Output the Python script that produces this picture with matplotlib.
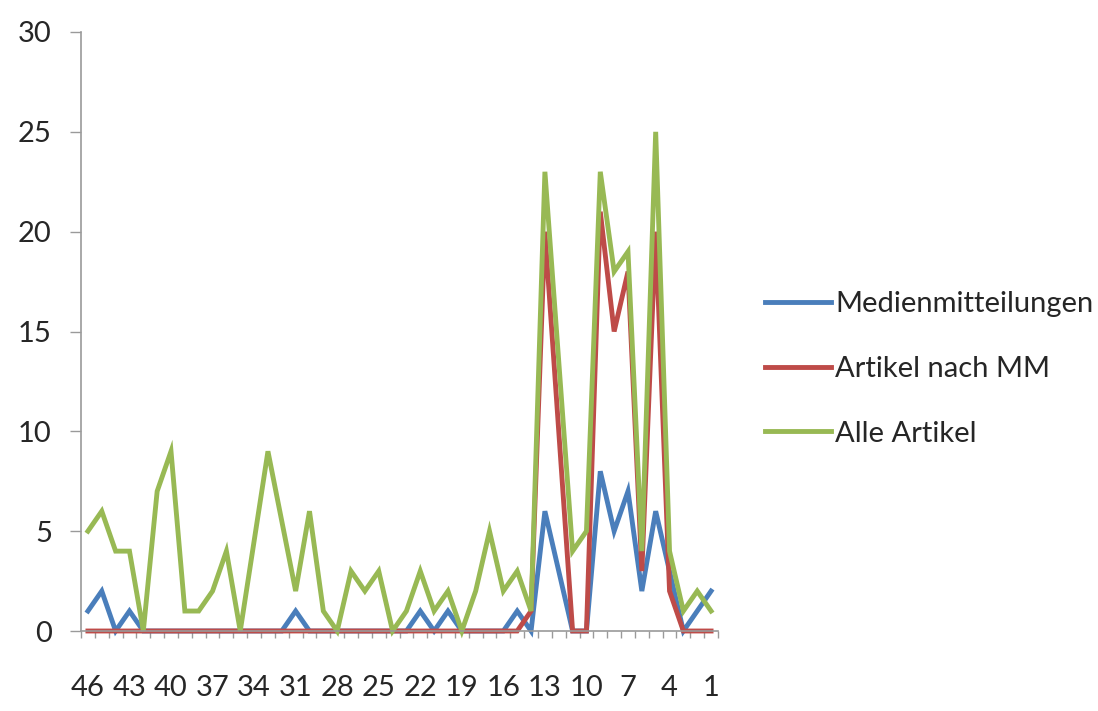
import matplotlib
matplotlib.use("Agg")
import matplotlib.pyplot as plt
import numpy as np

# weeks counted backwards, 46 ... 1
weeks = list(range(46, 0, -1))

medienmitteilungen = [1, 2, 0, 1, 0, 0, 0, 0, 0, 0, 0, 0, 0, 0, 0, 1,
                      0, 0, 0, 0, 0, 0, 0, 0, 1, 0, 1, 0, 0, 0, 0, 1,
                      0, 6, 3, 0, 0, 8, 5, 7, 2, 6, 3, 0, 1, 2]
artikel_nach_mm = [0, 0, 0, 0, 0, 0, 0, 0, 0, 0, 0, 0, 0, 0, 0, 0,
                   0, 0, 0, 0, 0, 0, 0, 0, 0, 0, 0, 0, 0, 0, 0, 0,
                   1, 20, 10, 0, 0, 21, 15, 18, 3, 20, 2, 0, 0, 0]
alle_artikel = [5, 6, 4, 4, 0, 7, 9, 1, 1, 2, 4, 0, 4.5, 9, 5.5, 2,
                6, 1, 0, 3, 2, 3, 0, 1, 3, 1, 2, 0, 2, 5, 2, 3,
                1, 23, 13.5, 4, 5, 23, 18, 19, 4, 25, 4, 1, 2, 1]

series_names = ["Medienmitteilungen", "Artikel nach MM", "Alle Artikel"]
colors = ["#4A7EBB", "#BE4B48", "#98B954"]

plt.rcParams["font.family"] = ["Lato", "DejaVu Sans"]

fig = plt.figure(figsize=(10.98, 7.11), dpi=100)
ax = fig.add_axes([81 / 1098, 1 - 631 / 711, (718 - 81) / 1098, (631 - 32) / 711])

x = np.arange(len(weeks))
for vals, name, col in zip([medienmitteilungen, artikel_nach_mm, alle_artikel],
                           series_names, colors):
    ax.plot(x, vals, color=col, lw=3.5, label=name, solid_joinstyle="miter",
            clip_on=False)

ax.set_xlim(-0.5, len(weeks) - 0.5)
ax.set_ylim(0, 30)
ax.set_yticks(range(0, 31, 5))

# category labels every third week, tick marks at every category boundary
ax.set_xticks(x[::3])
ax.set_xticklabels([str(w) for w in weeks[::3]])
ax.set_xticks(np.arange(-0.5, len(weeks)), minor=True)
ax.tick_params(axis="x", which="major", length=0, pad=32, labelsize=21,
               labelcolor="#262626")
ax.tick_params(axis="x", which="minor", length=5, width=1, color="#9a9a9a",
               direction="out")
ax.tick_params(axis="y", length=8, width=1, color="#9a9a9a", pad=13,
               labelsize=21, labelcolor="#262626")

for s in ["top", "right"]:
    ax.spines[s].set_visible(False)
for s in ["left", "bottom"]:
    ax.spines[s].set_color("#9a9a9a")
    ax.spines[s].set_linewidth(1.2)

fig.legend(loc="upper left", bbox_to_anchor=(765 / 1098, 1 - 291 / 711),
           frameon=False, fontsize=21, handlelength=2.25, handletextpad=0.15,
           labelspacing=1.33, borderpad=0, borderaxespad=0, labelcolor="#262626")

fig.savefig("out.png", dpi=100)
